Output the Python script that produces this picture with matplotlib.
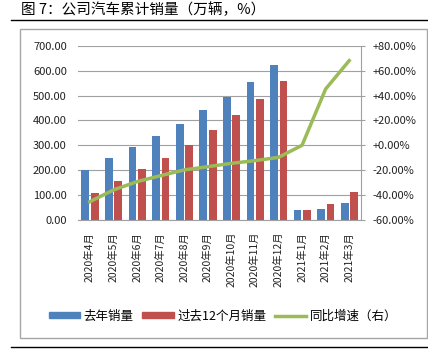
import matplotlib
matplotlib.use('Agg')
import matplotlib.pyplot as plt
from matplotlib.patches import Rectangle, Patch
from matplotlib.lines import Line2D
import numpy as np

plt.rcParams['font.family'] = ['Noto Sans CJK SC', 'DejaVu Sans']

# data
months = ['2020年4月', '2020年5月', '2020年6月', '2020年7月', '2020年8月', '2020年9月',
          '2020年10月', '2020年11月', '2020年12月', '2021年1月', '2021年2月', '2021年3月']
last_year = [200, 248, 294, 337, 386, 442, 495, 553, 622, 39, 43, 67]
past_12m = [110, 157, 205, 250, 301, 361, 420, 485, 560, 39, 64, 114]
yoy_pct = [-45.3, -35.9, -29.2, -24.4, -19.8, -17.2, -14.5, -12.3, -9.7, 0.0, 45.2, 68.0]

blue = '#4F81BD'
red = '#C0504D'
green = '#9BBB59'

W, H = 428, 354
fig = plt.figure(figsize=(W / 100, H / 100), dpi=100)

# title and rules
fig.text(21 / W, 1 - 10 / H, '图 7：公司汽车累计销量（万辆，%）', fontsize=10.5,
         va='center', ha='left')
fig.add_artist(Line2D([11 / W, 1], [1 - 20 / H, 1 - 20 / H], color='black', lw=1))
fig.add_artist(Line2D([11 / W, 1], [1 - 347 / H, 1 - 347 / H], color='black', lw=1))
fig.add_artist(Rectangle((20 / W, 1 - 338 / H), 407 / W, 309 / H, fill=False,
                         edgecolor='#A6A6A6', lw=1))

ax = fig.add_axes([78 / W, 1 - 220 / H, 283 / W, 174.3 / H])
x = np.arange(len(months))
bw = 0.33
ax.bar(x - 0.19, last_year, bw, color=blue, zorder=2)
ax.bar(x + 0.21, past_12m, bw, color=red, zorder=2)
ax.set_ylim(0, 700)
ax.set_yticks(np.arange(0, 701, 100))
ax.set_yticklabels([f'{v:.2f}' for v in np.arange(0, 701, 100)])
ax.set_xlim(-0.5, len(months) - 0.5)
ax.set_xticks(x)
ax.set_xticklabels(months, rotation=90)
ax.grid(axis='y', color='#A0A0A0', lw=0.8, zorder=0)
ax.tick_params(axis='y', length=0, labelsize=8, colors='#222222', pad=8)
ax.tick_params(axis='x', length=0, labelsize=7.5, colors='#222222', pad=8.5)
for s in ['top', 'left', 'right']:
    ax.spines[s].set_visible(False)
ax.spines['bottom'].set_color('#A0A0A0')

ax2 = ax.twinx()
ax2.plot(x, yoy_pct, color=green, lw=2.5, zorder=3)
ax2.set_ylim(-60, 80)
ax2.set_yticks(np.arange(-60, 81, 20))
ax2.set_yticklabels([f'{v:+.2f}%' for v in np.arange(-60, 81, 20)])
ax2.tick_params(length=3, width=0.8, color='#A0A0A0', labelsize=8,
                labelcolor='#222222', pad=5.5)
for s in ['top', 'left', 'bottom']:
    ax2.spines[s].set_visible(False)
ax2.spines['right'].set_color('#A0A0A0')

handles = [Patch(color=blue), Patch(color=red), Line2D([], [], color=green, lw=2.5)]
fig.legend(handles, ['去年销量', '过去12个月销量', '同比增速（右）'], ncol=3,
           loc='center', bbox_to_anchor=(223 / W, 1 - 316 / H), frameon=False,
           fontsize=9, handlelength=2.5, handleheight=0.45, columnspacing=0.7,
           handletextpad=0.3)

fig.savefig('out.png', dpi=100)
